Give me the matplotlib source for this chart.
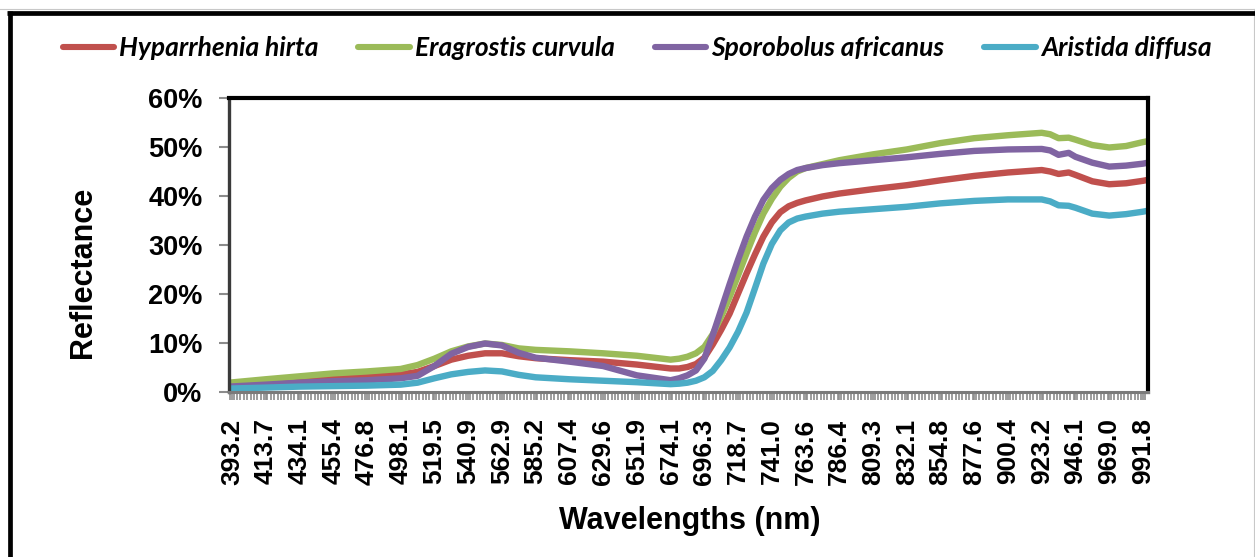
import numpy as np
import matplotlib
matplotlib.use("Agg")
import matplotlib.pyplot as plt
from matplotlib.lines import Line2D
from matplotlib.font_manager import FontProperties
from matplotlib.ticker import FixedLocator, FuncFormatter

# Category labels shown on the wavelength axis (nm)
tick_wavelengths = [393.2, 413.7, 434.1, 455.4, 476.8, 498.1, 519.5, 540.9, 562.9,
                    585.2, 607.4, 629.6, 651.9, 674.1, 696.3, 718.7, 741.0, 763.6,
                    786.4, 809.3, 832.1, 854.8, 877.6, 900.4, 923.2, 946.1, 969.0,
                    991.8]

# Sampled wavelengths (nm)
wavelength = [391.4, 413.7, 434.1, 455.4, 476.8, 498.1, 508.8, 519.5, 530.2, 540.9,
              551.9, 562.9, 574.0, 585.2, 607.4, 629.6, 651.9, 674.1,
              679.7, 685.2, 690.8, 696.3, 701.9, 707.5, 713.1, 718.7, 724.3,
              729.9, 735.4, 741.0, 746.7, 752.3, 758.0, 763.6, 769.3, 775.0,
              786.4, 809.3, 832.1, 854.8, 877.6, 900.4, 923.2, 928.9, 934.6,
              941.5, 946.1, 957.5, 969.0, 980.4, 991.8, 995.2]

# Reflectance (%)
hyparrhenia = [1.4, 1.9, 2.4, 2.8, 3.2, 3.6, 4.1, 5.3, 6.6, 7.4,
               7.9, 7.9, 7.3, 6.9, 6.5, 6.2, 5.6, 4.8,
               4.8, 5.1, 5.7, 7.0, 9.7, 12.7, 16.0, 20.1, 24.2,
               28.1, 31.7, 34.6, 36.7, 37.9, 38.6, 39.1, 39.5, 39.9,
               40.5, 41.4, 42.2, 43.2, 44.1, 44.8, 45.3, 45.0, 44.5,
               44.8, 44.3, 43.0, 42.4, 42.6, 43.1, 43.3]
eragrostis = [1.9, 2.6, 3.2, 3.8, 4.2, 4.7, 5.5, 6.8, 8.3, 9.3,
              9.9, 9.6, 8.9, 8.6, 8.3, 7.9, 7.4, 6.6,
              6.8, 7.2, 7.9, 9.2, 11.8, 15.4, 19.4, 23.8, 28.3,
              32.6, 36.4, 39.4, 41.9, 43.7, 45.0, 45.7, 46.1, 46.5,
              47.3, 48.5, 49.5, 50.8, 51.8, 52.4, 52.9, 52.6, 51.8,
              51.9, 51.5, 50.4, 49.9, 50.2, 51.0, 51.2]
sporobolus = [1.1, 1.5, 1.9, 2.2, 2.4, 2.8, 3.3, 5.3, 7.8, 9.2,
              9.9, 9.5, 8.0, 7.0, 6.2, 5.3, 3.4, 2.4,
              2.8, 3.4, 4.4, 6.8, 11.6, 16.8, 22.0, 27.0, 31.7,
              35.8, 39.2, 41.6, 43.3, 44.5, 45.3, 45.7, 46.0, 46.3,
              46.7, 47.3, 47.9, 48.6, 49.2, 49.5, 49.6, 49.3, 48.4,
              48.8, 48.0, 46.8, 46.0, 46.2, 46.6, 46.8]
aristida = [0.7, 0.9, 1.1, 1.2, 1.3, 1.5, 1.9, 2.8, 3.6, 4.1,
            4.4, 4.2, 3.5, 3.0, 2.6, 2.3, 2.0, 1.6,
            1.7, 1.9, 2.3, 3.0, 4.3, 6.5, 9.1, 12.3, 16.2,
            21.2, 26.2, 30.2, 33.0, 34.6, 35.4, 35.8, 36.1, 36.4,
            36.8, 37.3, 37.8, 38.5, 39.0, 39.3, 39.3, 38.9, 38.1,
            38.0, 37.6, 36.4, 36.0, 36.3, 36.8, 37.0]

series_names = ["Hyparrhenia hirta", "Eragrostis curvula",
                "Sporobolus africanus", "Aristida diffusa"]
series_values = [hyparrhenia, eragrostis, sporobolus, aristida]
series_colors = ["#C0504D", "#9BBB59", "#8064A2", "#4BACC6"]

# Category axis: labelled wavelengths sit at equal spacing
WL = np.array(tick_wavelengths)
IDX = np.arange(len(WL), dtype=float)


def to_pos(w):
    w = np.asarray(w, dtype=float)
    p = np.interp(w, WL, IDX)
    p = np.where(w < WL[0], (w - WL[0]) / (WL[1] - WL[0]), p)
    p = np.where(w > WL[-1], IDX[-1] + (w - WL[-1]) / (WL[-1] - WL[-2]), p)
    return p


def to_wl(p):
    p = np.asarray(p, dtype=float)
    w = np.interp(p, IDX, WL)
    w = np.where(p < 0, WL[0] + p * (WL[1] - WL[0]), w)
    w = np.where(p > IDX[-1], WL[-1] + (p - IDX[-1]) * (WL[-1] - WL[-2]), w)
    return w


W, H = 1255, 557
fig = plt.figure(figsize=(W / 100, H / 100), dpi=100)

ax = fig.add_axes([229 / W, 1 - 392 / H, (1148 - 229) / W, (392 - 98) / H])
ax.set_xscale("function", functions=(to_pos, to_wl))

for name, vals, col in zip(series_names, series_values, series_colors):
    ax.plot(wavelength, vals, color=col, lw=4.6, label=name,
            solid_capstyle="round", solid_joinstyle="round")

ax.set_xlim(391.4, 995.2)
ax.set_ylim(0, 60)

xtick_font = FontProperties(family="Liberation Sans", weight="bold", size=19)
ytick_font = FontProperties(family="Liberation Sans", weight="bold", size=19.5)

ax.xaxis.set_major_locator(FixedLocator(tick_wavelengths))
ax.xaxis.set_major_formatter(FuncFormatter(lambda v, p: f"{v:.1f}"))
ax.xaxis.set_minor_locator(FixedLocator(to_wl(np.arange(-0.05, 27.2, 0.1))))
ax.set_yticks(np.arange(0, 61, 10))
ax.yaxis.set_major_formatter(FuncFormatter(lambda v, p: f"{v:.0f}%"))
ax.yaxis.set_minor_locator(FixedLocator([]))

ax.tick_params(axis="x", which="both", direction="out", length=6, width=1.2,
               color="#8c8c8c", pad=13)
ax.tick_params(axis="x", which="major", labelrotation=90)
ax.tick_params(axis="y", which="major", direction="out", length=7, width=1.5,
               color="#8c8c8c", pad=12)
for lab in ax.get_xticklabels():
    lab.set_fontproperties(xtick_font)
for lab in ax.get_yticklabels():
    lab.set_fontproperties(ytick_font)

for side in ("top", "right"):
    ax.spines[side].set_linewidth(3.0)
    ax.spines[side].set_color("black")
ax.spines["left"].set_linewidth(2.4)
ax.spines["left"].set_color("#3a3a3a")
ax.spines["bottom"].set_linewidth(2.2)
ax.spines["bottom"].set_color("#7a7a7a")

fig.text(83 / W, 1 - 272 / H, "Reflectance", rotation=90, ha="center", va="center",
         family="Liberation Sans", weight="bold", size=22)
fig.text(690 / W, 1 - 521 / H, "Wavelengths (nm)", ha="center", va="center",
         family="Liberation Sans", weight="bold", size=22)

leg = fig.legend(loc="center", bbox_to_anchor=(637 / W, 1 - 48 / H), ncol=4,
                 frameon=False, handlelength=1.95, handletextpad=0.2,
                 columnspacing=1.5,
                 prop=dict(family="Lato", weight="bold", style="italic", size=19))
for h in leg.get_lines():
    h.set_linewidth(4.4)
    h.set_solid_capstyle("round")

# Chart frame
def px_line(x0, y0, x1, y1, **kw):
    fig.add_artist(Line2D([x0 / W, x1 / W], [1 - y0 / H, 1 - y1 / H],
                          transform=fig.transFigure, **kw))

px_line(0, 9, W, 9, color="#c8c8c8", lw=0.8)
px_line(W - 1.5, 9, W - 1.5, H, color="#c8c8c8", lw=0.8)
px_line(7, 13, W, 13, color="black", lw=3.4, solid_capstyle="butt")
px_line(9.5, 11, 9.5, H, color="black", lw=3.4, solid_capstyle="butt")

fig.savefig("out.png", dpi=100)
